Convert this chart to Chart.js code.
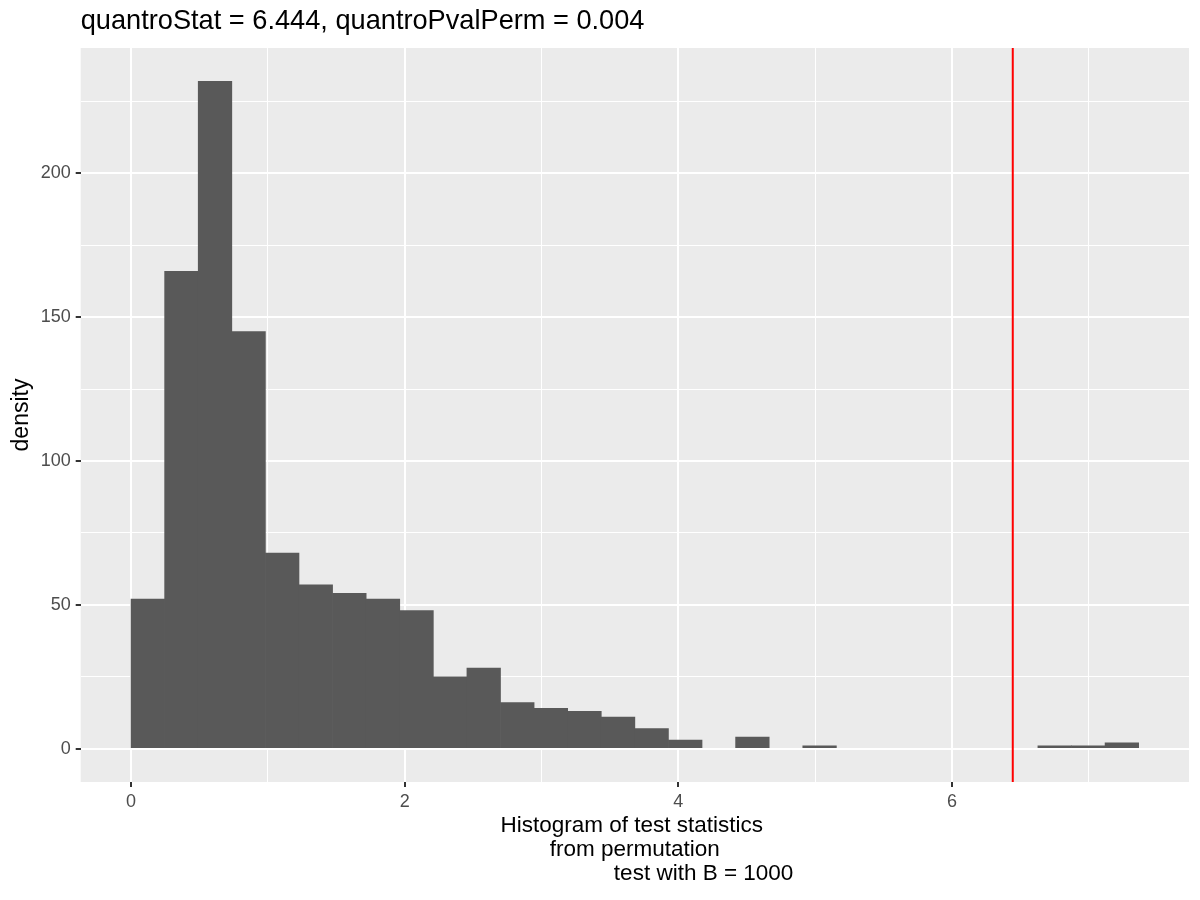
<!DOCTYPE html>
<html>
<head>
<meta charset="utf-8">
<script src="https://cdn.jsdelivr.net/npm/chart.js@4.4.1/dist/chart.umd.min.js"></script>
<style>
  html, body { margin: 0; padding: 0; background: #fff; }
  #wrap { width: 1200px; height: 900px; }
</style>
</head>
<body>
<div id="wrap"><canvas id="myChart"></canvas></div>
<script>
// histogram of permutation test statistics (30 bins starting at 0)
const binStart = 0;
const binWidth = 0.24547;
const counts = [52, 166, 232, 145, 68, 57, 54, 52, 48, 25, 28, 16, 14, 13, 11, 7, 3, 0, 4, 0, 1, 0, 0, 0, 0, 0, 0, 1, 1, 2];
const quantroStat = 6.444;

// axes
const xTicks = [0, 2, 4, 6];
const yTicks = [0, 50, 100, 150, 200];
const xRange = [-0.368, 7.732];
const yRange = [-11.6, 243.6];

const titleText = 'quantroStat = 6.444, quantroPvalPerm = 0.004';
const xTitle = ['Histogram of test statistics ', 'from permutation', '                      test with B = 1000'];
const yTitle = 'density';

const points = counts.map((c, i) => ({ x: binStart + (i + 0.5) * binWidth, y: c }));

const FONT = '"Liberation Sans", Arial, sans-serif';

// grey panel behind the grid
const panelBg = {
  id: 'panelBg',
  beforeDraw(chart) {
    const { ctx, chartArea: a } = chart;
    ctx.save();
    ctx.fillStyle = '#EBEBEB';
    ctx.fillRect(a.left, a.top, a.right - a.left, a.bottom - a.top);
    ctx.restore();
  }
};

// red line at the observed statistic
const statLine = {
  id: 'statLine',
  afterDatasetsDraw(chart) {
    const { ctx, chartArea: a } = chart;
    const px = chart.scales.x.getPixelForValue(quantroStat);
    ctx.save();
    ctx.strokeStyle = '#FF0000';
    ctx.lineWidth = 2;
    ctx.beginPath();
    ctx.moveTo(px, a.top);
    ctx.lineTo(px, a.bottom);
    ctx.stroke();
    ctx.restore();
  }
};

const isMajor = (list, v) => list.some(t => Math.abs(t - v) < 1e-6);

const ctx = document.getElementById('myChart').getContext('2d');
const myChart = new Chart(ctx, {
  type: 'bar',
  data: {
    datasets: [{
      data: points,
      backgroundColor: c => (c.raw && c.raw.y > 0) ? '#595959' : 'rgba(0,0,0,0)',
      borderWidth: 0,
      barPercentage: 1,
      categoryPercentage: 1
    }]
  },
  options: {
    responsive: true,
    maintainAspectRatio: false,
    animation: false,
    layout: { padding: { left: 0, right: 11, top: 0, bottom: 0 } },
    plugins: {
      legend: { display: false },
      tooltip: { enabled: false },
      title: {
        display: true,
        text: titleText,
        align: 'start',
        fullSize: false,
        color: '#000000',
        font: { family: FONT, size: 27.2, weight: 'normal', lineHeight: 1.2 },
        padding: { top: 5, bottom: 10.4 }
      }
    },
    scales: {
      x: {
        type: 'linear',
        min: xRange[0],
        max: xRange[1],
        offset: false,
        afterFit(s) { s.height = 118; },
        grid: {
          offset: false,
          color: '#FFFFFF',
          lineWidth: c => isMajor(xTicks, c.tick.value) ? 2 : 1,
          tickColor: c => isMajor(xTicks, c.tick.value) ? '#333333' : 'rgba(0,0,0,0)',
          tickWidth: 2,
          tickLength: 5
        },
        border: { display: false },
        ticks: {
          stepSize: 1,
          includeBounds: false,
          autoSkip: false,
          maxRotation: 0,
          padding: 4,
          color: '#4D4D4D',
          font: { family: FONT, size: 18 },
          callback: v => isMajor(xTicks, v) ? String(v) : ''
        },
        title: {
          display: true,
          text: xTitle,
          color: '#000000',
          font: { family: FONT, size: 22.5, lineHeight: '24px' },
          padding: { top: 0, bottom: 14 }
        }
      },
      y: {
        type: 'linear',
        min: yRange[0],
        max: yRange[1],
        afterFit(s) { s.width = 80.7; },
        grid: {
          color: '#FFFFFF',
          lineWidth: c => isMajor(yTicks, c.tick.value) ? 2 : 1,
          tickColor: c => isMajor(yTicks, c.tick.value) ? '#333333' : 'rgba(0,0,0,0)',
          tickWidth: 2,
          tickLength: 5
        },
        border: { display: false },
        ticks: {
          stepSize: 25,
          includeBounds: false,
          autoSkip: false,
          padding: 5,
          color: '#4D4D4D',
          font: { family: FONT, size: 18 },
          callback: v => isMajor(yTicks, v) ? String(v) : ''
        },
        title: {
          display: true,
          text: yTitle,
          color: '#000000',
          font: { family: FONT, size: 23, lineHeight: 1.2 },
          padding: { top: 8, bottom: 0 }
        }
      }
    }
  },
  plugins: [panelBg, statLine]
});
</script>
</body>
</html>
